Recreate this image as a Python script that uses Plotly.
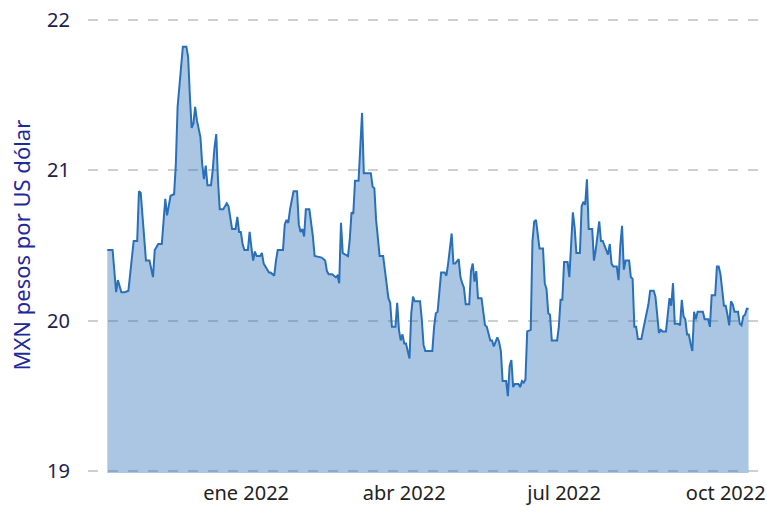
import plotly.graph_objects as go

dates = [
    "2021-10-14", "2021-10-17", "2021-10-19", "2021-10-20", "2021-10-22", "2021-10-24", "2021-10-26",
    "2021-10-29", "2021-10-31", "2021-11-01", "2021-11-02", "2021-11-05", "2021-11-07", "2021-11-09",
    "2021-11-10", "2021-11-11", "2021-11-12", "2021-11-14", "2021-11-16", "2021-11-17", "2021-11-18",
    "2021-11-19", "2021-11-21", "2021-11-22", "2021-11-23", "2021-11-24", "2021-11-26", "2021-11-28",
    "2021-11-29", "2021-11-30", "2021-12-01", "2021-12-02", "2021-12-03", "2021-12-04", "2021-12-06",
    "2021-12-07", "2021-12-08", "2021-12-09", "2021-12-10", "2021-12-12", "2021-12-13", "2021-12-14",
    "2021-12-15", "2021-12-16", "2021-12-17", "2021-12-19", "2021-12-21", "2021-12-22", "2021-12-23",
    "2021-12-24", "2021-12-26", "2021-12-27", "2021-12-28", "2021-12-29", "2021-12-30", "2021-12-31",
    "2022-01-02", "2022-01-03", "2022-01-04", "2022-01-05", "2022-01-06", "2022-01-07", "2022-01-09",
    "2022-01-10", "2022-01-11", "2022-01-12", "2022-01-14", "2022-01-15", "2022-01-17", "2022-01-18",
    "2022-01-19", "2022-01-22", "2022-01-23", "2022-01-24", "2022-01-25", "2022-01-26", "2022-01-28",
    "2022-01-30", "2022-01-31", "2022-02-01", "2022-02-02", "2022-02-03", "2022-02-04", "2022-02-06",
    "2022-02-07", "2022-02-08", "2022-02-09", "2022-02-13", "2022-02-15", "2022-02-16", "2022-02-17",
    "2022-02-19", "2022-02-21", "2022-02-22", "2022-02-23", "2022-02-24", "2022-02-25", "2022-02-27",
    "2022-02-28", "2022-03-01", "2022-03-02", "2022-03-03", "2022-03-04", "2022-03-06", "2022-03-07",
    "2022-03-08", "2022-03-09", "2022-03-13", "2022-03-14", "2022-03-15", "2022-03-16", "2022-03-18",
    "2022-03-20", "2022-03-21", "2022-03-22", "2022-03-23", "2022-03-24", "2022-03-25", "2022-03-27",
    "2022-03-28", "2022-03-29", "2022-03-30", "2022-03-31", "2022-04-01", "2022-04-02", "2022-04-04",
    "2022-04-05", "2022-04-06", "2022-04-07", "2022-04-10", "2022-04-11", "2022-04-12", "2022-04-13",
    "2022-04-17", "2022-04-18", "2022-04-19", "2022-04-20", "2022-04-22", "2022-04-24", "2022-04-25",
    "2022-04-26", "2022-04-28", "2022-04-29", "2022-04-30", "2022-05-02", "2022-05-03", "2022-05-04",
    "2022-05-05", "2022-05-06", "2022-05-08", "2022-05-09", "2022-05-10", "2022-05-11", "2022-05-12",
    "2022-05-13", "2022-05-15", "2022-05-16", "2022-05-17", "2022-05-18", "2022-05-19", "2022-05-20",
    "2022-05-21", "2022-05-22", "2022-05-23", "2022-05-24", "2022-05-25", "2022-05-26", "2022-05-27",
    "2022-05-29", "2022-05-30", "2022-05-31", "2022-06-01", "2022-06-02", "2022-06-03", "2022-06-05",
    "2022-06-06", "2022-06-07", "2022-06-08", "2022-06-09", "2022-06-10", "2022-06-12", "2022-06-13",
    "2022-06-14", "2022-06-15", "2022-06-16", "2022-06-17", "2022-06-19", "2022-06-20", "2022-06-21",
    "2022-06-22", "2022-06-23", "2022-06-24", "2022-06-27", "2022-06-28", "2022-06-29", "2022-06-30",
    "2022-07-01", "2022-07-03", "2022-07-04", "2022-07-05", "2022-07-06", "2022-07-07", "2022-07-08",
    "2022-07-10", "2022-07-11", "2022-07-12", "2022-07-13", "2022-07-14", "2022-07-15", "2022-07-17",
    "2022-07-18", "2022-07-19", "2022-07-21", "2022-07-22", "2022-07-23", "2022-07-25", "2022-07-26",
    "2022-07-27", "2022-07-28", "2022-07-29", "2022-07-31", "2022-08-01", "2022-08-02", "2022-08-03",
    "2022-08-04", "2022-08-05", "2022-08-07", "2022-08-08", "2022-08-09", "2022-08-10", "2022-08-11",
    "2022-08-12", "2022-08-14", "2022-08-15", "2022-08-17", "2022-08-18", "2022-08-19", "2022-08-21",
    "2022-08-22", "2022-08-23", "2022-08-24", "2022-08-25", "2022-08-26", "2022-08-28", "2022-08-29",
    "2022-08-30", "2022-08-31", "2022-09-01", "2022-09-02", "2022-09-04", "2022-09-05", "2022-09-06",
    "2022-09-07", "2022-09-08", "2022-09-09", "2022-09-10", "2022-09-11", "2022-09-12", "2022-09-13",
    "2022-09-14", "2022-09-15", "2022-09-18", "2022-09-19", "2022-09-21", "2022-09-22", "2022-09-23",
    "2022-09-25", "2022-09-26", "2022-09-27", "2022-09-28", "2022-09-30", "2022-10-01", "2022-10-02",
    "2022-10-03", "2022-10-04", "2022-10-05", "2022-10-06", "2022-10-08", "2022-10-09", "2022-10-10",
    "2022-10-11", "2022-10-12", "2022-10-13", "2022-10-14",
]

mxn_per_usd = [
    20.47, 20.47, 20.19, 20.27, 20.19, 20.19, 20.20,
    20.53, 20.53, 20.86, 20.85, 20.40, 20.40, 20.29,
    20.47, 20.49, 20.51, 20.51, 20.81, 20.70, 20.78,
    20.83, 20.84, 21.04, 21.42, 21.55, 21.82, 21.82,
    21.75, 21.49, 21.28, 21.31, 21.42, 21.33, 21.22,
    21.04, 20.94, 21.03, 20.90, 20.90, 21.00, 21.15,
    21.24, 20.93, 20.74, 20.74, 20.78, 20.76, 20.68,
    20.61, 20.61, 20.69, 20.59, 20.59, 20.51, 20.47,
    20.47, 20.59, 20.49, 20.40, 20.46, 20.43, 20.43,
    20.45, 20.38, 20.36, 20.32, 20.32, 20.30, 20.40,
    20.47, 20.47, 20.64, 20.67, 20.65, 20.74, 20.86,
    20.86, 20.64, 20.59, 20.61, 20.56, 20.74, 20.74,
    20.66, 20.56, 20.43, 20.42, 20.40, 20.33, 20.31,
    20.31, 20.29, 20.30, 20.25, 20.65, 20.45, 20.44,
    20.43, 20.54, 20.72, 20.71, 20.93, 20.93, 21.18,
    21.38, 20.98, 20.98, 20.89, 20.88, 20.67, 20.43,
    20.43, 20.34, 20.26, 20.15, 20.12, 19.96, 19.96,
    20.12, 19.94, 19.87, 19.91, 19.85, 19.85, 19.75,
    20.05, 20.16, 20.13, 20.13, 20.01, 19.84, 19.80,
    19.80, 19.96, 20.05, 20.06, 20.32, 20.32, 20.30,
    20.38, 20.58, 20.38, 20.38, 20.41, 20.29, 20.25,
    20.22, 20.11, 20.11, 20.33, 20.38, 20.26, 20.33,
    20.15, 20.15, 20.06, 19.97, 19.96, 19.92, 19.87,
    19.87, 19.83, 19.86, 19.89, 19.86, 19.80, 19.60,
    19.60, 19.50, 19.70, 19.74, 19.56, 19.58, 19.58,
    19.56, 19.60, 19.59, 19.61, 19.93, 19.94, 20.53,
    20.66, 20.67, 20.58, 20.48, 20.48, 20.25, 20.21,
    20.05, 20.04, 19.87, 19.87, 19.96, 20.14, 20.14,
    20.39, 20.39, 20.29, 20.50, 20.72, 20.62, 20.45,
    20.45, 20.76, 20.79, 20.77, 20.94, 20.61, 20.61,
    20.40, 20.47, 20.66, 20.53, 20.53, 20.47, 20.44,
    20.51, 20.38, 20.36, 20.36, 20.27, 20.50, 20.63,
    20.34, 20.40, 20.40, 20.29, 20.28, 19.96, 19.96,
    19.88, 19.88, 19.94, 20.06, 20.11, 20.20, 20.20,
    20.16, 20.01, 19.92, 19.94, 19.93, 19.93, 20.05,
    20.15, 20.10, 20.25, 19.98, 19.98, 19.97, 20.14,
    20.03, 20.01, 19.91, 19.91, 19.85, 19.80, 20.06,
    20.01, 20.06, 20.06, 20.01, 20.01, 19.96, 20.17,
    20.17, 20.36, 20.36, 20.31, 20.10, 20.10, 20.04,
    19.97, 20.13, 20.11, 20.06, 20.06, 19.98, 19.97,
    20.03, 20.04, 20.08, 20.08,
]

x_tick_vals = ["2022-01-01", "2022-04-01", "2022-07-01", "2022-10-01"]
x_tick_text = ["ene 2022", "abr 2022", "jul 2022", "oct 2022"]
y_tick_vals = [19, 20, 21, 22]
y_title = "MXN pesos por US dólar"

FONT = "Noto Sans"
LINE = "rgb(42,112,185)"

fig = go.Figure(
    go.Scatter(
        x=dates,
        y=mxn_per_usd,
        mode="lines",
        line=dict(color=LINE, width=2),
        fill="tozeroy",
        fillcolor="rgba(42,112,185,0.4)",
        hoverinfo="x+y",
    )
)

fig.update_layout(
    width=767,
    height=506,
    margin=dict(l=88, r=0, t=17.5, b=32.5, autoexpand=False),
    paper_bgcolor="white",
    plot_bgcolor="white",
    showlegend=False,
    font=dict(family=FONT, size=20, color="#222222"),
    annotations=[
        dict(
            text=y_title,
            textangle=-90,
            xref="paper",
            yref="paper",
            x=0,
            y=0.5,
            xanchor="center",
            yanchor="middle",
            xshift=-68,
            showarrow=False,
            font=dict(family=FONT, size=22, color="#1f2a9a"),
        )
    ],
)

fig.update_xaxes(
    range=["2021-10-03", "2022-10-24 12:00"],
    tickvals=x_tick_vals,
    ticktext=x_tick_text,
    showgrid=False,
    zeroline=False,
    showline=False,
    ticks="",
    automargin=False,
    ticklabelstandoff=6,
    ticklabeloverflow="allow",
    tickfont=dict(family=FONT, size=20, color="#222222"),
)

fig.update_yaxes(
    range=[18.99, 22.01],
    tickvals=y_tick_vals,
    showgrid=True,
    gridcolor="#cfcfcf",
    gridwidth=2,
    griddash="10px,10px",
    zeroline=False,
    showline=False,
    ticks="",
    automargin=False,
    ticklabelstandoff=17,
    ticklabeloverflow="allow",
    tickfont=dict(family=FONT, size=20, color="#1e2050"),
)

# remove the page body's default 8px margin so the figure fills the window
fig.write_html(
    "out.html",
    config={"displayModeBar": False},
    post_script="document.body.style.margin='0';",
)
